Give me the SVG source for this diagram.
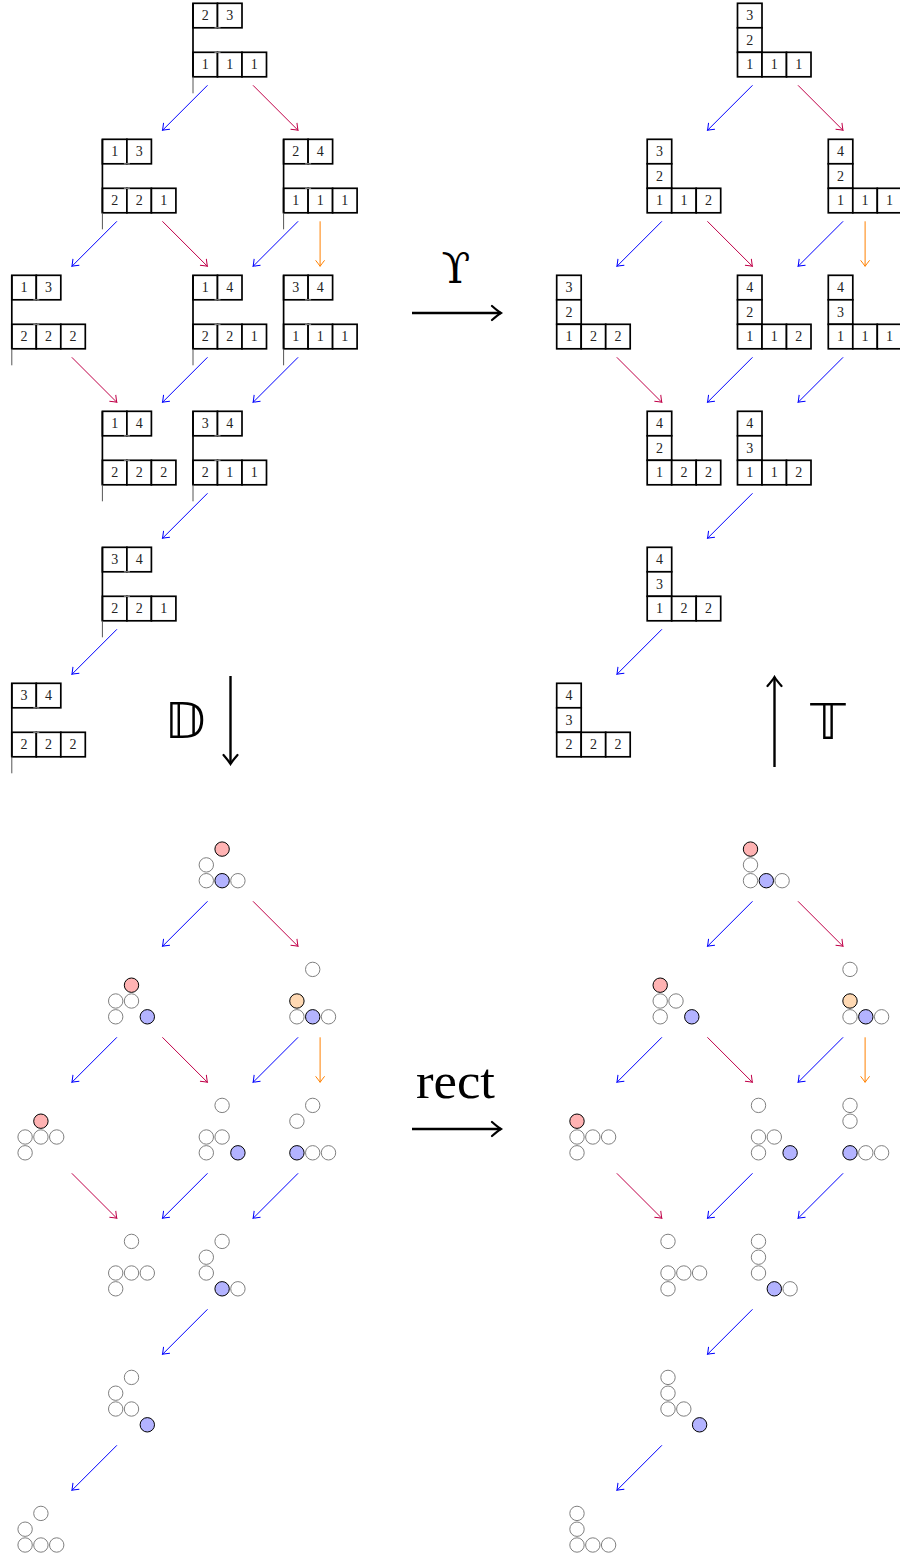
<svg xmlns="http://www.w3.org/2000/svg" xmlns:xlink="http://www.w3.org/1999/xlink" width="900" height="1556" viewBox="0 0 900 1556">
<style>
.c{fill:#fff;stroke:#000;stroke-width:1.7}
.k{stroke:#000;stroke-width:1.7}
.th{stroke:#555;stroke-width:1}
.tk{stroke:#999;stroke-width:1}
.t{font-family:"Liberation Serif",serif;font-size:14px;text-anchor:middle;fill:#222}
.g{fill:#fff;stroke:#808080;stroke-width:1}
.r{fill:#ffb3b3;stroke:#000;stroke-width:1}
.b{fill:#b3b3ff;stroke:#000;stroke-width:1}
.o{fill:#ffd9b3;stroke:#000;stroke-width:1}
.eb{stroke:#0000ff;stroke-width:1;fill:none}
.ep{stroke:#c00048;stroke-width:1;fill:none}
.eo{stroke:#ff8000;stroke-width:1;fill:none}
.big{stroke:#000;stroke-width:2.4;fill:none}
.lab{font-family:"Liberation Serif",serif;fill:#000;text-anchor:middle}
</style>
<defs>
<marker id="mb" viewBox="-7 -6 8 12" refX="0" refY="0" markerWidth="8" markerHeight="12" markerUnits="userSpaceOnUse" orient="auto"><path d="M-6,-4.5 Q-1.8,-1.2 0,0 Q-1.8,1.2 -6,4.5" fill="none" stroke="#0000ff" stroke-width="1"/></marker>
<marker id="mp" viewBox="-7 -6 8 12" refX="0" refY="0" markerWidth="8" markerHeight="12" markerUnits="userSpaceOnUse" orient="auto"><path d="M-6,-4.5 Q-1.8,-1.2 0,0 Q-1.8,1.2 -6,4.5" fill="none" stroke="#c00048" stroke-width="1"/></marker>
<marker id="mo" viewBox="-7 -6 8 12" refX="0" refY="0" markerWidth="8" markerHeight="12" markerUnits="userSpaceOnUse" orient="auto"><path d="M-6,-4.5 Q-1.8,-1.2 0,0 Q-1.8,1.2 -6,4.5" fill="none" stroke="#ff8000" stroke-width="1"/></marker>
<marker id="mk" viewBox="-12 -9 14 18" refX="0" refY="0" markerWidth="14" markerHeight="18" markerUnits="userSpaceOnUse" orient="auto"><path d="M-9,-7 Q-3,-1.8 0,0 Q-3,1.8 -9,7" fill="none" stroke="#000" stroke-width="2.2" stroke-linecap="round"/></marker>
<g id="edges">
<line class="eb" x1="207.5" y1="85.3" x2="162.5" y2="130.3" marker-end="url(#mb)"/>
<line class="ep" x1="253" y1="85.3" x2="298" y2="130.3" marker-end="url(#mp)"/>
<line class="eb" x1="116.9" y1="221.3" x2="71.9" y2="266.3" marker-end="url(#mb)"/>
<line class="ep" x1="162.4" y1="221.3" x2="207.4" y2="266.3" marker-end="url(#mp)"/>
<line class="eb" x1="298.1" y1="221.3" x2="253.1" y2="266.3" marker-end="url(#mb)"/>
<line class="eo" x1="320.1" y1="221.3" x2="320.1" y2="266.3" marker-end="url(#mo)"/>
<line class="ep" x1="71.8" y1="357.3" x2="116.8" y2="402.3" marker-end="url(#mp)"/>
<line class="eb" x1="207.5" y1="357.3" x2="162.5" y2="402.3" marker-end="url(#mb)"/>
<line class="eb" x1="298.1" y1="357.3" x2="253.1" y2="402.3" marker-end="url(#mb)"/>
<line class="eb" x1="207.5" y1="493.3" x2="162.5" y2="538.3" marker-end="url(#mb)"/>
<line class="eb" x1="116.9" y1="629.3" x2="71.9" y2="674.3" marker-end="url(#mb)"/>
</g>
<g id="frame">
<line class="k" x1="0" y1="0" x2="0" y2="73.5"/>
<line class="th" x1="0" y1="73.5" x2="0" y2="90"/>
<line class="tk" x1="21.5" y1="24.5" x2="27.5" y2="24.5"/>
<line class="tk" x1="21.5" y1="49" x2="27.5" y2="49"/>
</g>
<g id="cells5">
<rect class="c" x="0" y="0" width="24.5" height="24.5"/><rect class="c" x="24.5" y="0" width="24.5" height="24.5"/>
<rect class="c" x="0" y="49" width="24.5" height="24.5"/><rect class="c" x="24.5" y="49" width="24.5" height="24.5"/><rect class="c" x="49" y="49" width="24.5" height="24.5"/>
</g>
<g id="young">
<rect class="c" x="0" y="0" width="24.5" height="24.5"/><rect class="c" x="0" y="24.5" width="24.5" height="24.5"/>
<rect class="c" x="0" y="49" width="24.5" height="24.5"/><rect class="c" x="24.5" y="49" width="24.5" height="24.5"/><rect class="c" x="49" y="49" width="24.5" height="24.5"/>
</g>
</defs>

<g id="connectors">
<use xlink:href="#edges"/>
<use xlink:href="#edges" transform="translate(545,0)"/>
<use xlink:href="#edges" transform="translate(0,816)"/>
<use xlink:href="#edges" transform="translate(545,816)"/>
<line class="big" x1="412" y1="313" x2="501" y2="313" marker-end="url(#mk)"/>
<line class="big" x1="412" y1="1129" x2="501" y2="1129" marker-end="url(#mk)"/>
<line class="big" x1="230.5" y1="676" x2="230.5" y2="764" marker-end="url(#mk)"/>
<line class="big" x1="774.5" y1="767" x2="774.5" y2="677" marker-end="url(#mk)"/>
</g>

<g id="labels">
<text class="lab" x="456" y="283" style="font-family:'DejaVu Serif',serif;font-size:42px">ϒ</text>
<text class="lab" x="455.5" y="1098" style="font-size:50px" textLength="79" lengthAdjust="spacingAndGlyphs">rect</text>
<text class="lab" x="185" y="738" style="font-family:'DejaVu Sans',sans-serif;font-size:50px">𝔻</text>
<text class="lab" x="828" y="739" style="font-family:'DejaVu Sans',sans-serif;font-size:50px">𝕋</text>
</g>

<!-- left abacus nodes -->
<g id="a1" transform="translate(193,3.3)"><use xlink:href="#cells5"/><use xlink:href="#frame"/><text class="t" x="12.25" y="17">2</text><text class="t" x="36.75" y="17">3</text><text class="t" x="12.25" y="66">1</text><text class="t" x="36.75" y="66">1</text><text class="t" x="61.25" y="66">1</text></g>
<g id="a2" transform="translate(102.4,139.3)"><use xlink:href="#cells5"/><use xlink:href="#frame"/><text class="t" x="12.25" y="17">1</text><text class="t" x="36.75" y="17">3</text><text class="t" x="12.25" y="66">2</text><text class="t" x="36.75" y="66">2</text><text class="t" x="61.25" y="66">1</text></g>
<g id="a3" transform="translate(283.6,139.3)"><use xlink:href="#cells5"/><use xlink:href="#frame"/><text class="t" x="12.25" y="17">2</text><text class="t" x="36.75" y="17">4</text><text class="t" x="12.25" y="66">1</text><text class="t" x="36.75" y="66">1</text><text class="t" x="61.25" y="66">1</text></g>
<g id="a4" transform="translate(11.8,275.3)"><use xlink:href="#cells5"/><use xlink:href="#frame"/><text class="t" x="12.25" y="17">1</text><text class="t" x="36.75" y="17">3</text><text class="t" x="12.25" y="66">2</text><text class="t" x="36.75" y="66">2</text><text class="t" x="61.25" y="66">2</text></g>
<g id="a5" transform="translate(193,275.3)"><use xlink:href="#cells5"/><use xlink:href="#frame"/><text class="t" x="12.25" y="17">1</text><text class="t" x="36.75" y="17">4</text><text class="t" x="12.25" y="66">2</text><text class="t" x="36.75" y="66">2</text><text class="t" x="61.25" y="66">1</text></g>
<g id="a6" transform="translate(283.6,275.3)"><use xlink:href="#cells5"/><use xlink:href="#frame"/><text class="t" x="12.25" y="17">3</text><text class="t" x="36.75" y="17">4</text><text class="t" x="12.25" y="66">1</text><text class="t" x="36.75" y="66">1</text><text class="t" x="61.25" y="66">1</text></g>
<g id="a7" transform="translate(102.4,411.3)"><use xlink:href="#cells5"/><use xlink:href="#frame"/><text class="t" x="12.25" y="17">1</text><text class="t" x="36.75" y="17">4</text><text class="t" x="12.25" y="66">2</text><text class="t" x="36.75" y="66">2</text><text class="t" x="61.25" y="66">2</text></g>
<g id="a8" transform="translate(193,411.3)"><use xlink:href="#cells5"/><use xlink:href="#frame"/><text class="t" x="12.25" y="17">3</text><text class="t" x="36.75" y="17">4</text><text class="t" x="12.25" y="66">2</text><text class="t" x="36.75" y="66">1</text><text class="t" x="61.25" y="66">1</text></g>
<g id="a9" transform="translate(102.4,547.3)"><use xlink:href="#cells5"/><use xlink:href="#frame"/><text class="t" x="12.25" y="17">3</text><text class="t" x="36.75" y="17">4</text><text class="t" x="12.25" y="66">2</text><text class="t" x="36.75" y="66">2</text><text class="t" x="61.25" y="66">1</text></g>
<g id="a10" transform="translate(11.8,683.3)"><use xlink:href="#cells5"/><use xlink:href="#frame"/><text class="t" x="12.25" y="17">3</text><text class="t" x="36.75" y="17">4</text><text class="t" x="12.25" y="66">2</text><text class="t" x="36.75" y="66">2</text><text class="t" x="61.25" y="66">2</text></g>

<!-- right young diagrams -->
<g id="y1" transform="translate(737.5,3.3)"><use xlink:href="#young"/><text class="t" x="12.25" y="17">3</text><text class="t" x="12.25" y="41.5">2</text><text class="t" x="12.25" y="66">1</text><text class="t" x="36.75" y="66">1</text><text class="t" x="61.25" y="66">1</text></g>
<g id="y2" transform="translate(647.2,139.3)"><use xlink:href="#young"/><text class="t" x="12.25" y="17">3</text><text class="t" x="12.25" y="41.5">2</text><text class="t" x="12.25" y="66">1</text><text class="t" x="36.75" y="66">1</text><text class="t" x="61.25" y="66">2</text></g>
<g id="y3" transform="translate(828.3,139.3)"><use xlink:href="#young"/><text class="t" x="12.25" y="17">4</text><text class="t" x="12.25" y="41.5">2</text><text class="t" x="12.25" y="66">1</text><text class="t" x="36.75" y="66">1</text><text class="t" x="61.25" y="66">1</text></g>
<g id="y4" transform="translate(556.7,275.3)"><use xlink:href="#young"/><text class="t" x="12.25" y="17">3</text><text class="t" x="12.25" y="41.5">2</text><text class="t" x="12.25" y="66">1</text><text class="t" x="36.75" y="66">2</text><text class="t" x="61.25" y="66">2</text></g>
<g id="y5" transform="translate(737.5,275.3)"><use xlink:href="#young"/><text class="t" x="12.25" y="17">4</text><text class="t" x="12.25" y="41.5">2</text><text class="t" x="12.25" y="66">1</text><text class="t" x="36.75" y="66">1</text><text class="t" x="61.25" y="66">2</text></g>
<g id="y6" transform="translate(828.3,275.3)"><use xlink:href="#young"/><text class="t" x="12.25" y="17">4</text><text class="t" x="12.25" y="41.5">3</text><text class="t" x="12.25" y="66">1</text><text class="t" x="36.75" y="66">1</text><text class="t" x="61.25" y="66">1</text></g>
<g id="y7" transform="translate(647.2,411.3)"><use xlink:href="#young"/><text class="t" x="12.25" y="17">4</text><text class="t" x="12.25" y="41.5">2</text><text class="t" x="12.25" y="66">1</text><text class="t" x="36.75" y="66">2</text><text class="t" x="61.25" y="66">2</text></g>
<g id="y8" transform="translate(737.5,411.3)"><use xlink:href="#young"/><text class="t" x="12.25" y="17">4</text><text class="t" x="12.25" y="41.5">3</text><text class="t" x="12.25" y="66">1</text><text class="t" x="36.75" y="66">1</text><text class="t" x="61.25" y="66">2</text></g>
<g id="y9" transform="translate(647.2,547.3)"><use xlink:href="#young"/><text class="t" x="12.25" y="17">4</text><text class="t" x="12.25" y="41.5">3</text><text class="t" x="12.25" y="66">1</text><text class="t" x="36.75" y="66">2</text><text class="t" x="61.25" y="66">2</text></g>
<g id="y10" transform="translate(556.7,683.3)"><use xlink:href="#young"/><text class="t" x="12.25" y="17">4</text><text class="t" x="12.25" y="41.5">3</text><text class="t" x="12.25" y="66">2</text><text class="t" x="36.75" y="66">2</text><text class="t" x="61.25" y="66">2</text></g>

<!-- left circle nodes -->
<g id="b1"><circle class="r" cx="222.1" cy="849.1" r="7.2"/><circle class="g" cx="206.3" cy="864.9" r="7.2"/><circle class="g" cx="206.3" cy="880.7" r="7.2"/><circle class="b" cx="222.1" cy="880.7" r="7.2"/><circle class="g" cx="237.9" cy="880.7" r="7.2"/></g>
<g id="b2"><circle class="r" cx="131.5" cy="985.2" r="7.2"/><circle class="g" cx="115.7" cy="1001" r="7.2"/><circle class="g" cx="131.5" cy="1001" r="7.2"/><circle class="g" cx="115.7" cy="1016.8" r="7.2"/><circle class="b" cx="147.3" cy="1016.8" r="7.2"/></g>
<g id="b3"><circle class="g" cx="312.7" cy="969.4" r="7.2"/><circle class="o" cx="296.9" cy="1001" r="7.2"/><circle class="g" cx="296.9" cy="1016.8" r="7.2"/><circle class="b" cx="312.7" cy="1016.8" r="7.2"/><circle class="g" cx="328.5" cy="1016.8" r="7.2"/></g>
<g id="b4"><circle class="r" cx="40.9" cy="1121.2" r="7.2"/><circle class="g" cx="25.1" cy="1137" r="7.2"/><circle class="g" cx="40.9" cy="1137" r="7.2"/><circle class="g" cx="56.7" cy="1137" r="7.2"/><circle class="g" cx="25.1" cy="1152.8" r="7.2"/></g>
<g id="b5"><circle class="g" cx="222.1" cy="1105.4" r="7.2"/><circle class="g" cx="206.3" cy="1137" r="7.2"/><circle class="g" cx="222.1" cy="1137" r="7.2"/><circle class="g" cx="206.3" cy="1152.8" r="7.2"/><circle class="b" cx="237.9" cy="1152.8" r="7.2"/></g>
<g id="b6"><circle class="g" cx="312.7" cy="1105.4" r="7.2"/><circle class="g" cx="296.9" cy="1121.2" r="7.2"/><circle class="b" cx="296.9" cy="1152.8" r="7.2"/><circle class="g" cx="312.7" cy="1152.8" r="7.2"/><circle class="g" cx="328.5" cy="1152.8" r="7.2"/></g>
<g id="b7"><circle class="g" cx="131.5" cy="1241.4" r="7.2"/><circle class="g" cx="115.7" cy="1273" r="7.2"/><circle class="g" cx="131.5" cy="1273" r="7.2"/><circle class="g" cx="147.3" cy="1273" r="7.2"/><circle class="g" cx="115.7" cy="1288.8" r="7.2"/></g>
<g id="b8"><circle class="g" cx="222.1" cy="1241.4" r="7.2"/><circle class="g" cx="206.3" cy="1257.2" r="7.2"/><circle class="g" cx="206.3" cy="1273" r="7.2"/><circle class="b" cx="222.1" cy="1288.8" r="7.2"/><circle class="g" cx="237.9" cy="1288.8" r="7.2"/></g>
<g id="b9"><circle class="g" cx="131.5" cy="1377.4" r="7.2"/><circle class="g" cx="115.7" cy="1393.2" r="7.2"/><circle class="g" cx="115.7" cy="1409" r="7.2"/><circle class="g" cx="131.5" cy="1409" r="7.2"/><circle class="b" cx="147.3" cy="1424.8" r="7.2"/></g>
<g id="b10"><circle class="g" cx="40.9" cy="1513.4" r="7.2"/><circle class="g" cx="25.1" cy="1529.2" r="7.2"/><circle class="g" cx="25.1" cy="1545" r="7.2"/><circle class="g" cx="40.9" cy="1545" r="7.2"/><circle class="g" cx="56.7" cy="1545" r="7.2"/></g>

<!-- right circle nodes -->
<g id="c1"><circle class="r" cx="750.5" cy="849.1" r="7.2"/><circle class="g" cx="750.5" cy="864.9" r="7.2"/><circle class="g" cx="750.5" cy="880.7" r="7.2"/><circle class="b" cx="766.3" cy="880.7" r="7.2"/><circle class="g" cx="782.1" cy="880.7" r="7.2"/></g>
<g id="c2"><circle class="r" cx="660.2" cy="985.2" r="7.2"/><circle class="g" cx="660.2" cy="1001" r="7.2"/><circle class="g" cx="676" cy="1001" r="7.2"/><circle class="g" cx="660.2" cy="1016.8" r="7.2"/><circle class="b" cx="691.8" cy="1016.8" r="7.2"/></g>
<g id="c3"><circle class="g" cx="850" cy="969.4" r="7.2"/><circle class="o" cx="850" cy="1001" r="7.2"/><circle class="g" cx="850" cy="1016.8" r="7.2"/><circle class="b" cx="865.8" cy="1016.8" r="7.2"/><circle class="g" cx="881.6" cy="1016.8" r="7.2"/></g>
<g id="c4"><circle class="r" cx="577" cy="1121.2" r="7.2"/><circle class="g" cx="577" cy="1137" r="7.2"/><circle class="g" cx="592.8" cy="1137" r="7.2"/><circle class="g" cx="608.6" cy="1137" r="7.2"/><circle class="g" cx="577" cy="1152.8" r="7.2"/></g>
<g id="c5"><circle class="g" cx="758.5" cy="1105.4" r="7.2"/><circle class="g" cx="758.5" cy="1137" r="7.2"/><circle class="g" cx="774.3" cy="1137" r="7.2"/><circle class="g" cx="758.5" cy="1152.8" r="7.2"/><circle class="b" cx="790.1" cy="1152.8" r="7.2"/></g>
<g id="c6"><circle class="g" cx="850" cy="1105.4" r="7.2"/><circle class="g" cx="850" cy="1121.2" r="7.2"/><circle class="b" cx="850" cy="1152.8" r="7.2"/><circle class="g" cx="865.8" cy="1152.8" r="7.2"/><circle class="g" cx="881.6" cy="1152.8" r="7.2"/></g>
<g id="c7"><circle class="g" cx="668" cy="1241.4" r="7.2"/><circle class="g" cx="668" cy="1273" r="7.2"/><circle class="g" cx="683.8" cy="1273" r="7.2"/><circle class="g" cx="699.6" cy="1273" r="7.2"/><circle class="g" cx="668" cy="1288.8" r="7.2"/></g>
<g id="c8"><circle class="g" cx="758.5" cy="1241.4" r="7.2"/><circle class="g" cx="758.5" cy="1257.2" r="7.2"/><circle class="g" cx="758.5" cy="1273" r="7.2"/><circle class="b" cx="774.3" cy="1288.8" r="7.2"/><circle class="g" cx="790.1" cy="1288.8" r="7.2"/></g>
<g id="c9"><circle class="g" cx="668" cy="1377.4" r="7.2"/><circle class="g" cx="668" cy="1393.2" r="7.2"/><circle class="g" cx="668" cy="1409" r="7.2"/><circle class="g" cx="683.8" cy="1409" r="7.2"/><circle class="b" cx="699.6" cy="1424.8" r="7.2"/></g>
<g id="c10"><circle class="g" cx="577" cy="1513.4" r="7.2"/><circle class="g" cx="577" cy="1529.2" r="7.2"/><circle class="g" cx="577" cy="1545" r="7.2"/><circle class="g" cx="592.8" cy="1545" r="7.2"/><circle class="g" cx="608.6" cy="1545" r="7.2"/></g>
</svg>
